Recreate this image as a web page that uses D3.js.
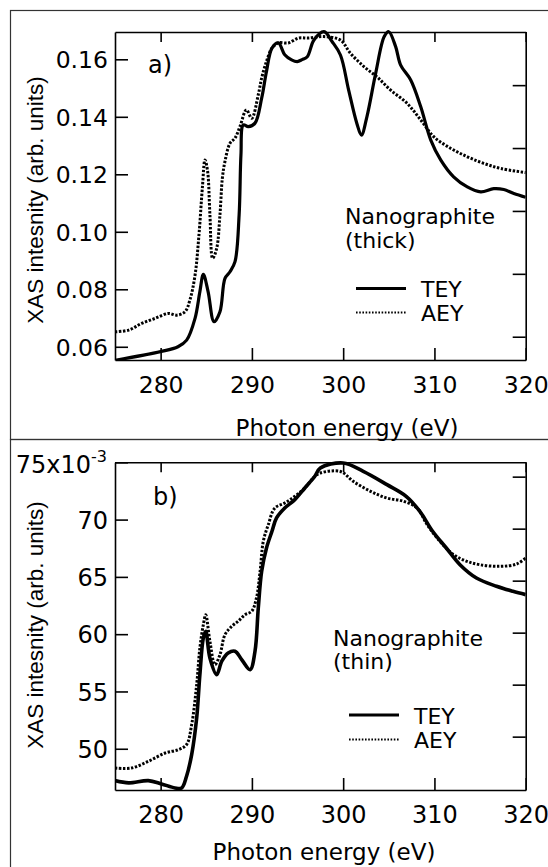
<!DOCTYPE html>
<html>
<head>
<meta charset="utf-8">
<script src="https://cdn.jsdelivr.net/npm/d3@7"></script>
<style>
  html, body { margin: 0; padding: 0; background: #fff; }
  svg { display: block; }
  text { font-family: "DejaVu Sans", Verdana, sans-serif; fill: #000; }
  .ytitle { font-family: "Liberation Sans", Arial, sans-serif; }
</style>
</head>
<body>
<svg id="fig" width="548" height="867"></svg>
<script>
// ---- Panel a: thick nanographite film ----
const energyTEYa = [275, 280, 281.9, 282.85, 283.77, 284.3, 284.68, 285.2, 285.85, 286.5, 287.05, 287.6, 288.15,
  288.6, 288.8, 289.06, 289.6, 290.34, 291.07, 291.6, 292.2, 292.9, 293.6, 294.35, 294.97, 295.5, 296.07, 296.8,
  297.9, 298.8, 299.7, 300.6, 301.5, 302.0, 302.6, 303.56, 304.5, 305.0, 305.75, 306.3, 307.4, 308.5, 309.6,
  310.7, 312.1, 313.6, 315.07, 316.5, 317.6, 318.7, 320];
const teyA = [0.0553, 0.0583, 0.0600, 0.0623, 0.0699, 0.0792, 0.0852, 0.0792, 0.0687, 0.0722, 0.0838, 0.0861, 0.0896,
  0.1059, 0.1268, 0.1372, 0.1366, 0.1378, 0.1465, 0.1558, 0.1639, 0.1657, 0.1616, 0.1598, 0.1592, 0.1599, 0.1609, 0.1667,
  0.1696, 0.1661, 0.1615, 0.1493, 0.1377, 0.1336, 0.1400, 0.1551, 0.1679, 0.1696, 0.1644, 0.1580, 0.1528, 0.1435, 0.1319,
  0.1249, 0.1191, 0.1156, 0.1139, 0.1150, 0.1147, 0.1133, 0.1120];

const energyAEYa = [275, 276.5, 277.9, 279.4, 280.84, 281.76, 282.67, 283.2, 283.77, 284.2, 284.57, 284.86, 285.15,
  285.4, 285.7, 286.14, 286.5, 286.76, 287.05, 287.6, 288.15, 288.7, 289.4, 289.98, 290.7, 291.07, 291.6, 292.2,
  292.9, 294.0, 295.1, 296.2, 297.9, 299.7, 300.8, 302.3, 303.7, 305.2, 307.0, 308.5, 309.95, 311.8, 313.6,
  315.4, 317.3, 320];
const aeyA = [0.0652, 0.0658, 0.0681, 0.0699, 0.0716, 0.0710, 0.0722, 0.0762, 0.0849, 0.0989, 0.1152, 0.1250, 0.1210,
  0.1059, 0.0908, 0.0942, 0.1059, 0.1186, 0.1245, 0.1308, 0.1326, 0.1367, 0.1424, 0.1395, 0.1477, 0.1535, 0.1593, 0.1639,
  0.1657, 0.1657, 0.1674, 0.1674, 0.1679, 0.1667, 0.1621, 0.1574, 0.1539, 0.1493, 0.1447, 0.1389, 0.1330, 0.1290, 0.1261,
  0.1238, 0.1220, 0.1206];

// ---- Panel b: thin nanographite film (units of 1e-3) ----
const energyTEYb = [275, 276.5, 278.65, 280.1, 281.57, 282.3, 282.84, 283.4, 283.95, 284.3, 284.68, 284.94, 285.4,
  286.14, 286.7, 287.4, 288.15, 288.88, 289.8, 290.34, 290.7, 291.07, 291.6, 292.2, 292.7, 293.6, 294.7, 295.8,
  296.9, 297.5, 300.0, 302.2, 304.8, 306.9, 308.4, 309.8, 311.3, 312.8, 314.6, 316.8, 318.6, 320];
const teyB = [47.22, 47.02, 47.22, 46.93, 46.58, 46.58, 47.6, 49.49, 52.69, 56.47, 59.67, 60.25, 57.92,
  56.47, 57.64, 58.36, 58.51, 57.78, 56.9, 58.51, 62.29, 65.49, 67.52, 68.98, 70.14, 71.01, 71.74, 72.76,
  73.78, 74.5, 74.94, 74.21, 73.05, 72.03, 70.72, 68.98, 67.52, 66.06, 64.9, 64.18, 63.74, 63.45];

const energyAEYb = [275, 276.8, 278.65, 280.5, 281.94, 282.84, 283.4, 283.95, 284.3, 284.68, 284.94, 285.4, 285.95,
  286.5, 287.05, 287.8, 288.5, 289.25, 289.98, 290.5, 290.9, 291.25, 291.8, 292.5, 293.6, 294.7, 295.8, 296.9,
  297.5, 299.7, 301.1, 303.0, 304.8, 306.6, 308.1, 309.2, 310.6, 312.1, 313.55, 315.0, 317.2, 319.0, 320];
const aeyB = [48.32, 48.32, 48.9, 49.63, 49.92, 50.36, 52.1, 55.6, 58.8, 60.83, 61.7, 59.38, 57.34,
  58.21, 59.96, 60.69, 61.13, 61.7, 62.0, 63.16, 65.49, 68.11, 69.56, 71.0, 71.45, 72.03, 72.76, 73.78,
  74.07, 74.2, 73.34, 72.47, 71.88, 71.6, 71.01, 69.56, 68.11, 66.94, 66.36, 66.06, 65.92, 66.12, 66.65];

// ---- Tick values ----
const xTicks = [280, 290, 300, 310, 320];
const yTicksA = [0.06, 0.08, 0.10, 0.12, 0.14, 0.16];
const yTicksB = [50, 55, 60, 65, 70, 75];
const rightTicksA = [0.04, 0.06, 0.08, 0.10, 0.12];
const rightTicksB = [40, 45, 50, 55, 60, 65];

const seriesNames = ["TEY", "AEY"];

const svg = d3.select("#fig");

// Outer frames of the two figure boxes
const frame = svg.append("g").attr("stroke", "#333").attr("stroke-width", 1.2).attr("fill", "none");
frame.append("rect").attr("x", 10.5).attr("y", 10.5).attr("width", 560).attr("height", 429);
frame.append("rect").attr("x", 10.5).attr("y", 439.5).attr("width", 560).attr("height", 460);

function panel(opt) {
  const { left, right, top, bottom } = opt;
  const x = d3.scaleLinear().domain([275, 320]).range([left, right]);
  const y = d3.scaleLinear().domain(opt.yDomain).range([bottom, top]);
  const yR = d3.scaleLinear().domain(opt.rDomain).range([bottom, top]);
  const g = svg.append("g");

  const clipId = "clip-" + opt.id;
  svg.append("clipPath").attr("id", clipId)
    .append("rect").attr("x", left).attr("y", top - 2).attr("width", right - left).attr("height", bottom - top + 2);

  const line = d3.line().x(d => x(d[0])).y(d => y(d[1])).curve(d3.curveCatmullRom.alpha(0.5));

  // AEY: dotted trace
  g.append("path")
    .datum(d3.zip(opt.eA, opt.vA))
    .attr("clip-path", `url(#${clipId})`)
    .attr("fill", "none").attr("stroke", "#000")
    .attr("stroke-width", 3).attr("stroke-dasharray", "2.4,1.6")
    .attr("d", line);

  // TEY: solid trace
  g.append("path")
    .datum(d3.zip(opt.eT, opt.vT))
    .attr("clip-path", `url(#${clipId})`)
    .attr("fill", "none").attr("stroke", "#000")
    .attr("stroke-width", opt.teyWidth).attr("stroke-linejoin", "round")
    .attr("d", line);

  // Axes with inward ticks
  const bottomAx = g.append("g").attr("transform", `translate(0,${bottom})`)
    .call(d3.axisBottom(x).tickValues(xTicks).tickSizeInner(-12).tickSizeOuter(0).tickPadding(16).tickFormat(d3.format("d")));
  const topAx = g.append("g").attr("transform", `translate(0,${top})`)
    .call(d3.axisTop(x).tickValues(xTicks).tickSizeInner(-10).tickSizeOuter(0).tickFormat(""));
  const leftAx = g.append("g").attr("transform", `translate(${left},0)`)
    .call(d3.axisLeft(y).tickValues(opt.yTicks).tickSizeInner(-13).tickSizeOuter(0).tickPadding(7).tickFormat(opt.yFormat));
  const rightAx = g.append("g").attr("transform", `translate(${right},0)`)
    .call(d3.axisRight(yR).tickValues(opt.rTicks).tickSizeInner(-13).tickSizeOuter(0).tickFormat(""));

  [bottomAx, topAx, leftAx, rightAx].forEach(a => {
    a.select(".domain").attr("stroke", "#000").attr("stroke-width", 1.6);
    a.selectAll(".tick line").attr("stroke", "#000").attr("stroke-width", 1.6);
  });
  bottomAx.selectAll(".tick text").attr("font-size", opt.tickFont).attr("fill", "#000")
    .attr("font-family", "DejaVu Sans");
  leftAx.selectAll(".tick text").attr("font-size", opt.tickFont).attr("fill", "#000")
    .attr("font-family", "DejaVu Sans").attr("dy", "0.36em");

  // Axis titles
  g.append("text").attr("class", "ytitle")
    .attr("transform", `translate(${opt.yTitleX},${opt.yTitleY}) rotate(-90)`)
    .attr("text-anchor", "middle").attr("font-size", 22.5)
    .text("XAS intesnity (arb. units)");
  g.append("text")
    .attr("x", opt.xTitleX).attr("y", opt.xTitleY)
    .attr("text-anchor", "middle").attr("font-size", 23)
    .text("Photon energy (eV)");

  // Panel tag
  g.append("text").attr("x", opt.tagX).attr("y", opt.tagY).attr("font-size", 24).text(opt.tag);

  // Legend
  const lg = g.append("g");
  lg.append("text").attr("x", opt.legX).attr("y", opt.legY).attr("font-size", 22).text("Nanographite");
  lg.append("text").attr("x", opt.legX).attr("y", opt.legY + opt.legGap).attr("font-size", 22).text(opt.sample);
  seriesNames.forEach((name, i) => {
    const ly = opt.lineY[i];
    lg.append("line")
      .attr("x1", opt.lineX).attr("x2", opt.lineX + 50).attr("y1", ly).attr("y2", ly)
      .attr("stroke", "#000")
      .attr("stroke-width", i === 0 ? 3 : 2)
      .attr("stroke-dasharray", i === 0 ? null : "1.6,1.6");
    lg.append("text").attr("x", opt.lineX + 65).attr("y", ly + 8.5).attr("font-size", 22).text(name);
  });
  return { x, y, g, leftAx };
}

panel({
  id: "a", left: 115, right: 525.7, top: 32, bottom: 360,
  yDomain: [0.0554, 0.1695], rDomain: [0.0326, 0.1369],
  yTicks: yTicksA, rTicks: rightTicksA, yFormat: d3.format(".2f"),
  eT: energyTEYa, vT: teyA, eA: energyAEYa, vA: aeyA, teyWidth: 3.2,
  tickFont: 23.5,
  yTitleX: 43, yTitleY: 200, xTitleX: 347, xTitleY: 436,
  tag: "a)", tagX: 148, tagY: 73,
  legX: 345, legY: 224, legGap: 24, sample: "(thick)",
  lineX: 356, lineY: [288.5, 312.5]
});

const pb = panel({
  id: "b", left: 115, right: 525.7, top: 462.3, bottom: 790,
  yDomain: [46.4, 75], rDomain: [34.87, 66.38],
  yTicks: yTicksB, rTicks: rightTicksB, yFormat: d => d === 75 ? "" : d3.format("d")(d),
  eT: energyTEYb, vT: teyB, eA: energyAEYb, vA: aeyB, teyWidth: 3.6,
  tickFont: 24,
  yTitleX: 43, yTitleY: 625, xTitleX: 324, xTitleY: 860,
  tag: "b)", tagX: 153, tagY: 505,
  legX: 333, legY: 646, legGap: 23, sample: "(thin)",
  lineX: 349, lineY: [715, 739.5]
});

// Scale-factor label on the top tick of panel b
const topLabel = pb.g.append("text")
  .attr("x", 107).attr("y", pb.y(75) + 11).attr("text-anchor", "end").attr("font-size", 24);
topLabel.append("tspan").text("75x10");
topLabel.append("tspan").attr("font-size", 16).attr("dy", -11).text("-3");
</script>
</body>
</html>
